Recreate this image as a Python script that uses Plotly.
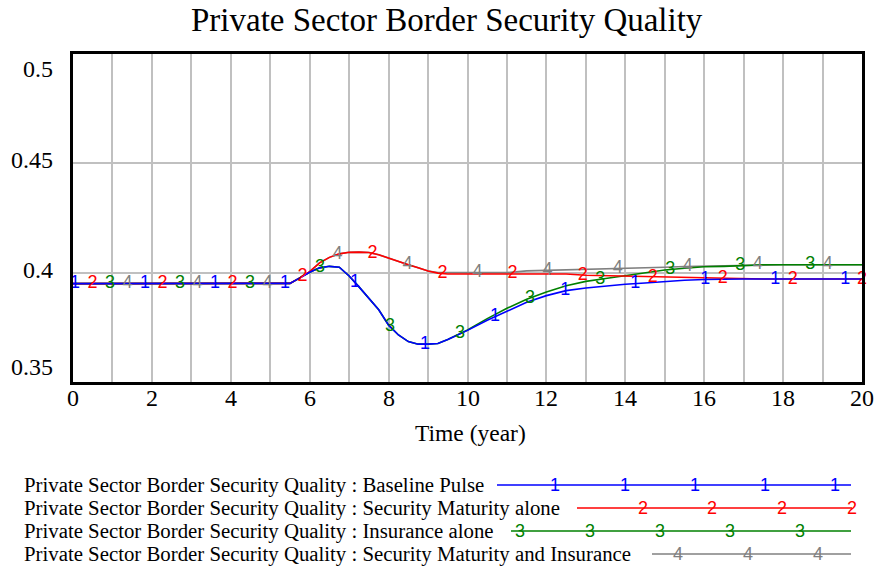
import numpy as np
import plotly.graph_objects as go

# Simulation time (years)
time = [0, 1, 2, 3, 4, 5, 5.5, 5.75, 6, 6.25, 6.5, 6.75, 7, 7.25, 7.5, 7.75,
        8, 8.25, 8.5, 8.75, 9, 9.25, 9.5, 9.75, 10, 10.5, 11, 11.5, 12, 12.5,
        13, 13.5, 14, 14.5, 15, 15.5, 16, 16.5, 17, 17.5, 18, 19, 20]

baseline_pulse = [0.395, 0.395, 0.395, 0.395, 0.395, 0.395, 0.3951, 0.3976, 0.4002, 0.4022,
                  0.4029, 0.4025, 0.3985, 0.3935, 0.3885, 0.3830, 0.3760, 0.3715, 0.3685, 0.3673,
                  0.3673, 0.3676, 0.3694, 0.3714, 0.3736, 0.3782, 0.3825, 0.3865, 0.3895, 0.3918,
                  0.3930, 0.3940, 0.3947, 0.3953, 0.3960, 0.3965, 0.3969, 0.3971, 0.3971, 0.3971,
                  0.3971, 0.3971, 0.3971]

security_maturity = [0.395, 0.395, 0.395, 0.395, 0.395, 0.395, 0.3951, 0.3976, 0.4005, 0.4045,
                     0.4070, 0.4086, 0.4093, 0.4094, 0.4092, 0.4082, 0.4066, 0.4050, 0.4036, 0.4022,
                     0.4008, 0.3998, 0.3994, 0.3994, 0.3994, 0.3994, 0.3994, 0.3994, 0.3994, 0.3994,
                     0.3988, 0.3986, 0.3985, 0.3980, 0.3978, 0.3976, 0.3975, 0.3973, 0.3971, 0.3971,
                     0.3971, 0.3971, 0.3971]

insurance = [0.395, 0.395, 0.395, 0.395, 0.395, 0.395, 0.3951, 0.3976, 0.4002, 0.4022,
             0.4029, 0.4025, 0.3985, 0.3935, 0.3885, 0.3830, 0.3760, 0.3715, 0.3685, 0.3673,
             0.3673, 0.3676, 0.3694, 0.3715, 0.3738, 0.3790, 0.3837, 0.3878, 0.3912, 0.3940,
             0.3960, 0.3973, 0.3985, 0.3998, 0.4012, 0.4020, 0.4027, 0.4029, 0.4033, 0.4036,
             0.4036, 0.4036, 0.4036]

maturity_and_insurance = [0.395, 0.395, 0.395, 0.395, 0.395, 0.395, 0.3951, 0.3976, 0.4005, 0.4045,
                          0.4070, 0.4086, 0.4093, 0.4094, 0.4092, 0.4082, 0.4066, 0.4050, 0.4036, 0.4022,
                          0.4008, 0.4001, 0.4000, 0.4000, 0.4000, 0.4000, 0.4000, 0.4008, 0.4010, 0.4012,
                          0.4015, 0.4018, 0.4020, 0.4022, 0.4025, 0.4028, 0.4030, 0.4032, 0.4034, 0.4036,
                          0.4036, 0.4036, 0.4036]

series_names = ["Baseline Pulse", "Security Maturity alone", "Insurance alone",
                "Security Maturity and Insurance"]
series_values = [baseline_pulse, security_maturity, insurance, maturity_and_insurance]
series_colors = ["#0000ff", "#ff0000", "#008000", "#808080"]

y_ticks = [0.35, 0.4, 0.45, 0.5]
x_ticks = list(range(0, 21, 2))

title = "Private Sector Border Security Quality"
x_title = "Time (year)"

SERIF = "Liberation Serif, Times New Roman, serif"
SANS = "Liberation Sans, Arial, sans-serif"

W, H = 879, 570
L, R, T, B = 73, 862, 54, 382


def px(x):
    return (x - L) / (R - L)


def py(y):
    return (B - y) / (B - T)


fig = go.Figure()

# lines, bottom to top
draw_order = [3, 2, 1, 0]
for i in draw_order:
    fig.add_trace(go.Scatter(x=time, y=series_values[i], mode="lines",
                             line=dict(color=series_colors[i], width=1.6),
                             showlegend=False, hoverinfo="skip"))

# numbered markers spaced along each line
spacing = 1.775
for i in draw_order:
    start = 0.05 + i * spacing / 4
    xs = np.arange(start, 20.05, spacing)
    xs = np.minimum(xs, 20.0)
    ys = np.interp(xs, time, series_values[i])
    fig.add_trace(go.Scatter(x=xs, y=ys, mode="text", text=[str(i + 1)] * len(xs),
                             textposition="middle center",
                             textfont=dict(family=SANS, size=18, color=series_colors[i]),
                             cliponaxis=False, showlegend=False, hoverinfo="skip"))

annotations = []
# title
annotations.append(dict(text=title, x=px(447), y=py(20), xref="paper", yref="paper",
                        showarrow=False, xanchor="center", yanchor="middle",
                        font=dict(family=SERIF, size=33, color="black")))
# y tick labels
for v in y_ticks:
    anchor = "top" if v == max(y_ticks) else ("bottom" if v == min(y_ticks) else "middle")
    annotations.append(dict(text=f"{v:g}", x=0, y=v, xref="paper", yref="y",
                            showarrow=False, xanchor="right", yanchor=anchor, xshift=-18,
                            yshift=3 if anchor == "middle" else 0,
                            font=dict(family=SERIF, size=24, color="black")))
# x tick labels
for v in x_ticks:
    annotations.append(dict(text=str(v), x=v, y=py(398), xref="x", yref="paper",
                            showarrow=False, xanchor="center", yanchor="middle",
                            font=dict(family=SERIF, size=24, color="black")))
# x axis title
annotations.append(dict(text=x_title, x=px(470), y=py(433), xref="paper", yref="paper",
                        showarrow=False, xanchor="center", yanchor="middle",
                        font=dict(family=SERIF, size=23.5, color="black")))

# legend block below the chart
shapes = []
legend_rows = [485, 508, 531, 554]
legend_line_start = [497, 577, 511, 652]
legend_label_x = [[555, 625, 695, 765, 835], [643, 712, 782, 852],
                  [520, 590, 660, 730, 800], [678, 748, 818]]
legend_line_end = 851
for i, name in enumerate(series_names):
    yr = legend_rows[i]
    annotations.append(dict(text=f"Private Sector Border Security Quality : {name}",
                            x=px(22), y=py(yr), xref="paper", yref="paper",
                            showarrow=False, xanchor="left", yanchor="middle",
                            font=dict(family=SERIF, size=20.8, color="black")))
    shapes.append(dict(type="line", xref="paper", yref="paper",
                       x0=px(legend_line_start[i]), x1=px(max(legend_line_end, legend_label_x[i][-1])),
                       y0=py(yr), y1=py(yr),
                       line=dict(color=series_colors[i], width=1.6)))
    for lx in legend_label_x[i]:
        annotations.append(dict(text=str(i + 1), x=px(lx), y=py(yr), xref="paper", yref="paper",
                                showarrow=False, xanchor="center", yanchor="middle",
                                font=dict(family=SANS, size=18, color=series_colors[i])))

fig.update_layout(
    width=W, height=H,
    margin=dict(l=L, r=W - R, t=T, b=H - B, pad=0, autoexpand=False),
    paper_bgcolor="white", plot_bgcolor="white",
    annotations=annotations, shapes=shapes,
    showlegend=False,
    xaxis=dict(range=[0, 20], tickvals=list(range(0, 21)), showticklabels=False, ticks="",
               showgrid=True, gridcolor="#c0c0c0", gridwidth=2, automargin=False,
               showline=True, linecolor="black", linewidth=3, mirror=True,
               zeroline=False),
    yaxis=dict(range=[0.35, 0.5], tickvals=y_ticks, showticklabels=False, ticks="",
               showgrid=True, gridcolor="#c0c0c0", gridwidth=2, automargin=False,
               showline=True, linecolor="black", linewidth=3, mirror=True,
               zeroline=False),
)

fig.write_html("out.html")
